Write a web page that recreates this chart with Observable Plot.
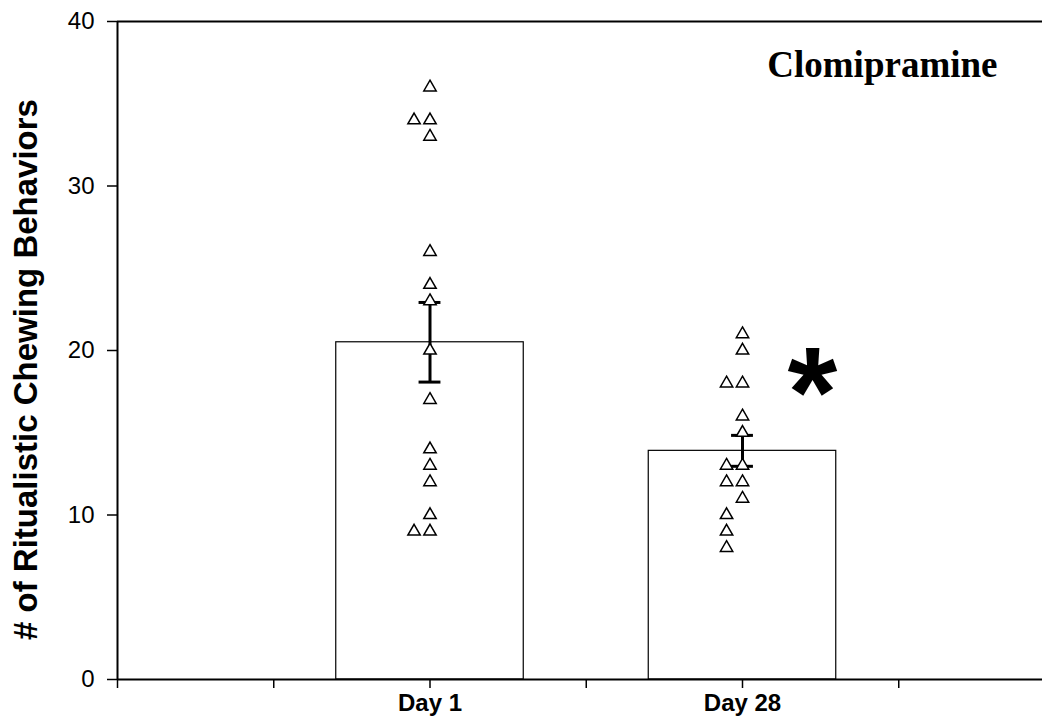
<!DOCTYPE html>
<html>
<head>
<meta charset="utf-8">
<script src="https://cdn.jsdelivr.net/npm/d3@7"></script>
<script src="https://cdn.jsdelivr.net/npm/@observablehq/plot@0.6"></script>
<style>
  html, body { margin: 0; padding: 0; background: #fff; }
  svg { display: block; }
</style>
</head>
<body>
<div id="chart"></div>
<script>
// ---- data ----
const categories = ["Day 1", "Day 28"];
const day1Values  = [36, 34, 34, 33, 26, 24, 23, 20, 17, 14, 13, 12, 10, 9, 9];
const day1Column  = [0, -1, 0, 0, 0, 0, 0, 0, 0, 0, 0, 0, 0, -1, 0];   // -1 = point drawn in left column
const day28Values = [21, 20, 18, 18, 16, 15, 13, 13, 12, 12, 11, 10, 9, 8];
const day28Column = [0, 0, -1, 0, 0, 0, -1, 0, -1, 0, 0, -1, -1, -1];
const means = [20.5, 13.9];
const sems  = [2.42, 0.94];
const yTicks = [0, 10, 20, 30, 40];
const yTitle = "# of Ritualistic Chewing Behaviors";
const panelTitle = "Clomipramine";
const signif = "*";

// ---- derived tables ----
const COLW = 0.051;     // left-column offset (x units)
const BARHW = 0.3;      // half bar width (x units)
const CAPHW = 0.035;    // half cap width
const groups = categories.map((c, i) => ({cat: c, pos: i + 1, mean: means[i], sem: sems[i]}));
const points = [];
[[day1Values, day1Column], [day28Values, day28Column]].forEach(([vals, cols], gi) => {
  vals.forEach((v, j) => points.push({x: gi + 1 + cols[j] * COLW, y: v}));
});

const chart = Plot.plot({
  width: 1042,
  height: 716,
  marginLeft: 117,
  marginRight: 0,
  marginTop: 21,
  marginBottom: 37,
  style: {fontFamily: "'Liberation Sans', Arial, sans-serif", background: "#fff", color: "#000"},
  x: {domain: [0, 2.96]},
  y: {domain: [0, 40]},
  marks: [
    Plot.rectY(groups, {x1: d => d.pos - BARHW, x2: d => d.pos + BARHW, y1: 0, y2: "mean", fill: "#fff", stroke: "#000", strokeWidth: 1.2}),
    Plot.ruleX(groups, {x: "pos", y1: d => d.mean - d.sem, y2: d => d.mean + d.sem, strokeWidth: 3}),
    Plot.ruleY(groups, {y: d => d.mean + d.sem, x1: d => d.pos - CAPHW, x2: d => d.pos + CAPHW, strokeWidth: 3}),
    Plot.ruleY(groups, {y: d => d.mean - d.sem, x1: d => d.pos - CAPHW, x2: d => d.pos + CAPHW, strokeWidth: 3}),
    Plot.dot(points, {x: "x", y: "y", symbol: "triangle", r: 4.6, fill: "#fff", stroke: "#000", strokeWidth: 1.5}),
    Plot.ruleY([0], {strokeWidth: 2}),
    Plot.ruleY([40], {strokeWidth: 2}),
    Plot.ruleX([0], {strokeWidth: 2}),
    Plot.axisY({ticks: yTicks, tickSize: 10, tickPadding: 13, fontSize: 24, strokeWidth: 1.5, label: null}),
    Plot.axisX({
      ticks: [0, 0.5, 1, 1.5, 2, 2.5],
      tickFormat: d => (Number.isInteger(d) && d >= 1 && d <= categories.length) ? categories[d - 1] : "",
      tickSize: 9, tickPadding: 5, fontSize: 24, fontWeight: "bold", strokeWidth: 1.5, label: null
    }),
    Plot.text([yTitle], {frameAnchor: "left", rotate: -90, dx: -91, dy: 19, fontSize: 33, fontWeight: "bold", textAnchor: "middle", lineAnchor: "middle"}),
    Plot.text([panelTitle], {frameAnchor: "top-right", dx: -45, dy: 55, textAnchor: "end", lineAnchor: "bottom",
      fontFamily: "'Liberation Serif', 'Times New Roman', serif", fontWeight: "bold", fontSize: 37}),
    Plot.text([signif], {frameAnchor: "top-left", dx: 695, dy: 414, textAnchor: "middle", lineAnchor: "bottom", fontSize: 128, fontWeight: "bold"})
  ]
});
document.getElementById("chart").appendChild(chart);
</script>
</body>
</html>
